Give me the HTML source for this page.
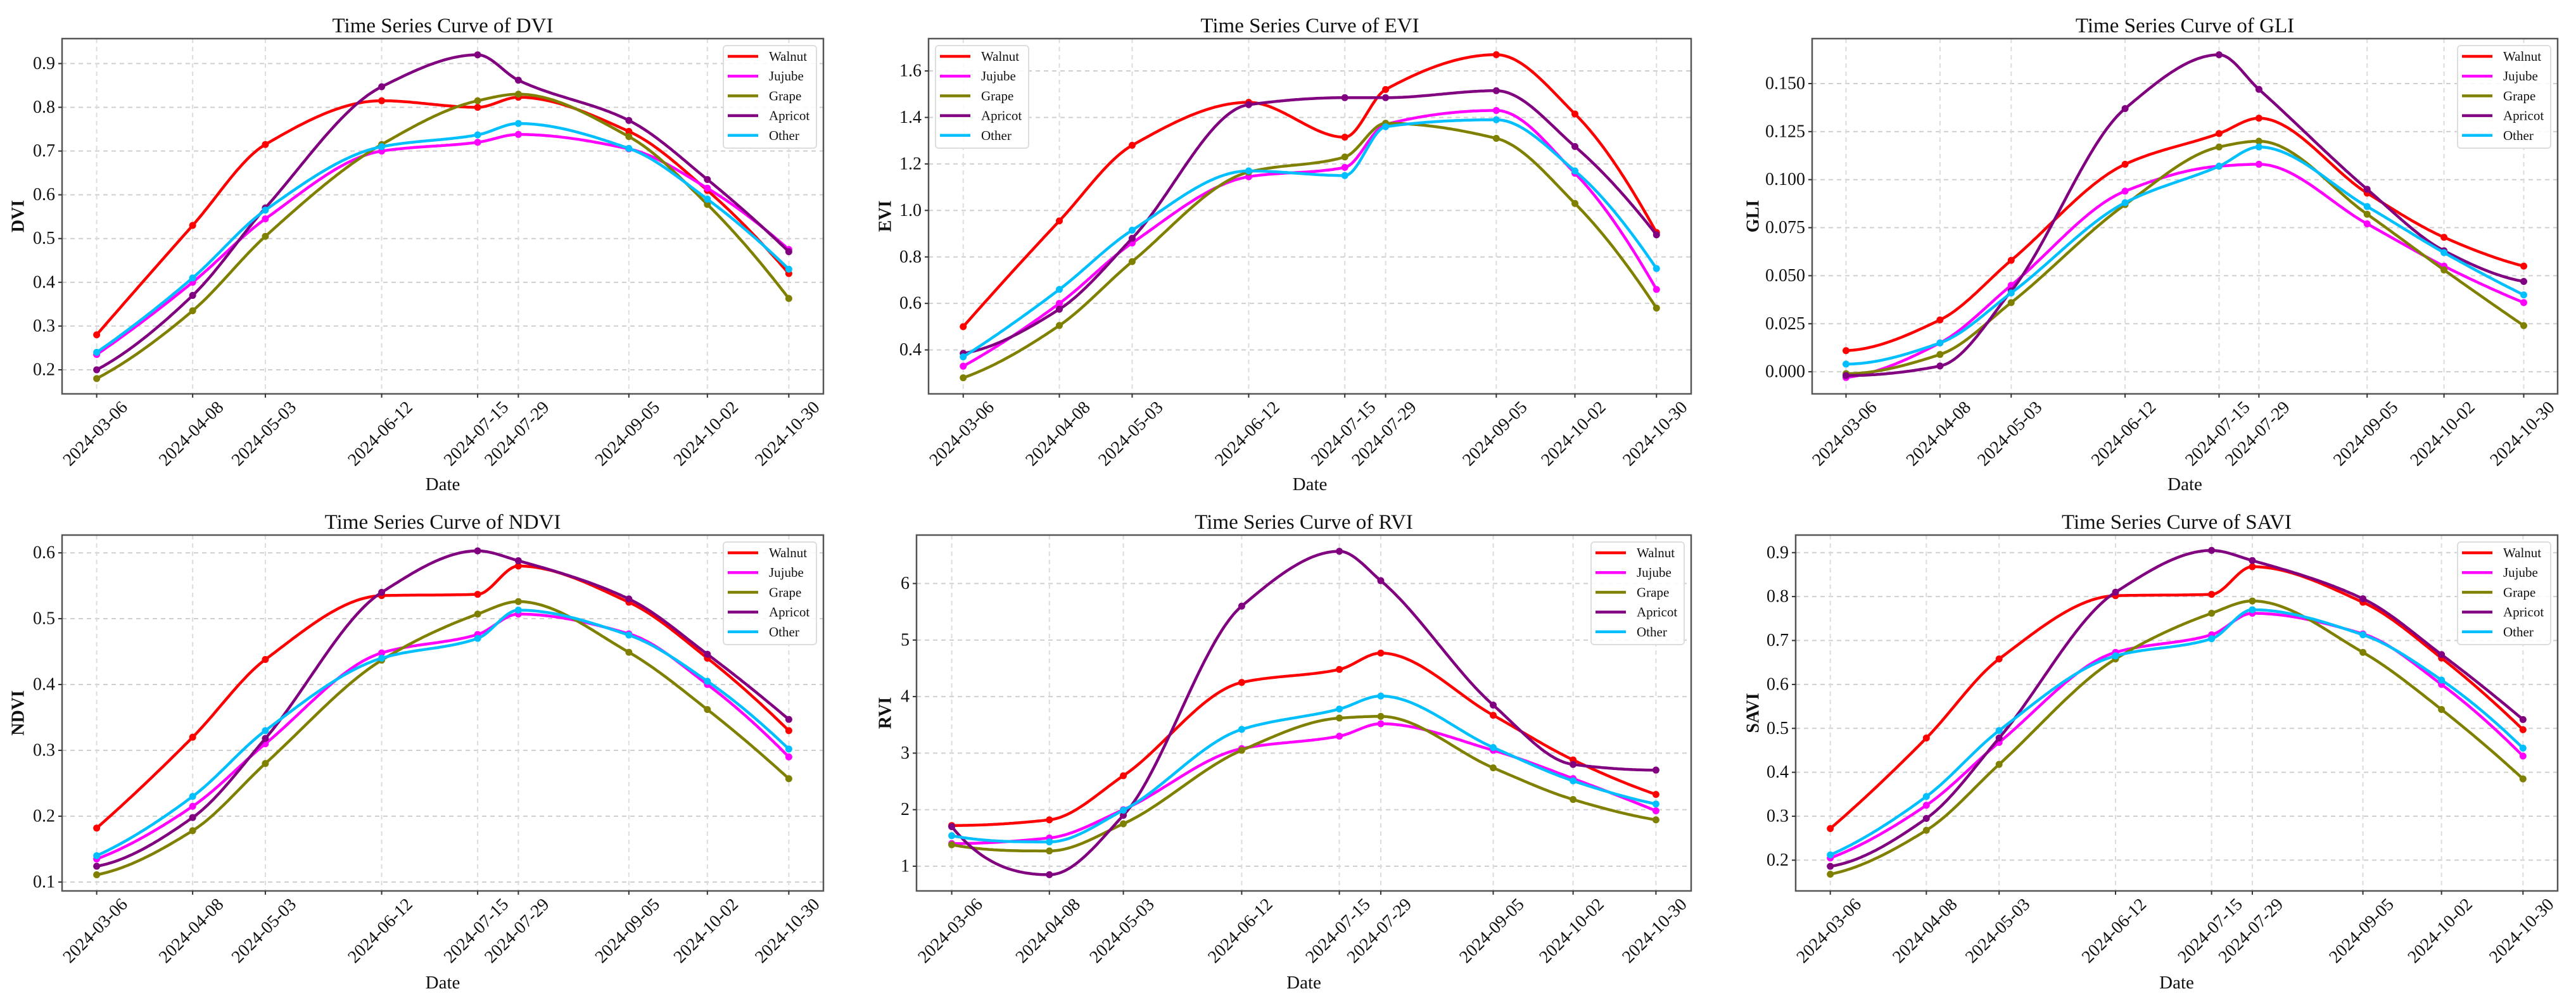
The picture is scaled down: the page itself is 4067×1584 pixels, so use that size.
<!DOCTYPE html>
<html><head><meta charset="utf-8">
<style>
html,body{margin:0;padding:0;background:#fff;}
svg{display:block;font-family:"Liberation Serif","Times New Roman",serif;}
</style></head>
<body>
<svg id="fig" width="4067" height="1584" viewBox="0 0 4067 1584" xmlns="http://www.w3.org/2000/svg"></svg>
<script>
const dateLabels = ["2024-03-06","2024-04-08","2024-05-03","2024-06-12","2024-07-15","2024-07-29","2024-09-05","2024-10-02","2024-10-30"];
const dayOffsets = [0,33,58,98,131,145,183,210,238];
const seriesNames = ["Walnut","Jujube","Grape","Apricot","Other"];
const seriesColors = ["#ff0000","#ff00ff","#808000","#800080","#00bfff"];

const dviWalnut=[0.28,0.53,0.715,0.815,0.80,0.823,0.745,0.61,0.42];
const dviJujube=[0.235,0.40,0.545,0.70,0.72,0.738,0.705,0.615,0.475];
const dviGrape=[0.18,0.335,0.505,0.715,0.815,0.83,0.733,0.578,0.363];
const dviApricot=[0.20,0.37,0.57,0.847,0.92,0.862,0.77,0.635,0.47];
const dviOther=[0.24,0.41,0.565,0.71,0.737,0.763,0.706,0.59,0.43];
const dviTicks=[0.2,0.3,0.4,0.5,0.6,0.7,0.8,0.9];

const eviWalnut=[0.50,0.955,1.28,1.465,1.315,1.52,1.67,1.415,0.905];
const eviJujube=[0.33,0.60,0.86,1.145,1.185,1.37,1.43,1.16,0.66];
const eviGrape=[0.28,0.505,0.78,1.165,1.23,1.375,1.31,1.03,0.58];
const eviApricot=[0.385,0.575,0.88,1.455,1.485,1.485,1.515,1.275,0.895];
const eviOther=[0.37,0.66,0.915,1.17,1.15,1.36,1.39,1.17,0.75];
const eviTicks=[0.4,0.6,0.8,1.0,1.2,1.4,1.6];

const gliWalnut=[0.011,0.027,0.058,0.108,0.124,0.132,0.093,0.070,0.055];
const gliJujube=[-0.003,0.015,0.045,0.094,0.107,0.108,0.077,0.055,0.036];
const gliGrape=[-0.001,0.009,0.036,0.087,0.117,0.120,0.082,0.053,0.024];
const gliApricot=[-0.002,0.003,0.042,0.137,0.165,0.147,0.095,0.063,0.047];
const gliOther=[0.004,0.015,0.041,0.088,0.107,0.117,0.086,0.062,0.040];
const gliTicks=[0,0.025,0.05,0.075,0.1,0.125,0.15];

const ndviWalnut=[0.182,0.32,0.438,0.535,0.537,0.58,0.525,0.44,0.33];
const ndviJujube=[0.135,0.215,0.31,0.448,0.476,0.507,0.477,0.40,0.29];
const ndviGrape=[0.111,0.178,0.28,0.437,0.507,0.526,0.449,0.362,0.257];
const ndviApricot=[0.124,0.198,0.318,0.54,0.603,0.588,0.53,0.446,0.347];
const ndviOther=[0.14,0.23,0.33,0.44,0.47,0.513,0.475,0.405,0.302];
const ndviTicks=[0.1,0.2,0.3,0.4,0.5,0.6];

const rviWalnut=[1.72,1.82,2.60,4.25,4.48,4.77,3.67,2.88,2.27];
const rviJujube=[1.40,1.50,2.00,3.08,3.30,3.52,3.05,2.55,1.98];
const rviGrape=[1.38,1.27,1.75,3.05,3.62,3.65,2.74,2.18,1.82];
const rviApricot=[1.70,0.85,1.90,5.60,6.57,6.05,3.85,2.80,2.70];
const rviOther=[1.54,1.43,1.99,3.42,3.78,4.01,3.10,2.51,2.10];
const rviTicks=[1,2,3,4,5,6];

const saviWalnut=[0.272,0.478,0.658,0.802,0.805,0.868,0.787,0.66,0.497];
const saviJujube=[0.205,0.325,0.468,0.673,0.713,0.762,0.715,0.60,0.437];
const saviGrape=[0.168,0.268,0.418,0.658,0.762,0.79,0.673,0.543,0.385];
const saviApricot=[0.186,0.295,0.478,0.81,0.905,0.882,0.795,0.668,0.52];
const saviOther=[0.212,0.345,0.495,0.665,0.704,0.77,0.713,0.61,0.455];
const saviTicks=[0.2,0.3,0.4,0.5,0.6,0.7,0.8,0.9];

const NS="http://www.w3.org/2000/svg";
const fig=document.getElementById('fig');
function mk(tag,attrs,parent){const e=document.createElementNS(NS,tag);for(const k in attrs)e.setAttribute(k,attrs[k]);(parent||fig).appendChild(e);return e;}

function pchip(xs,ys){
  const n=xs.length,h=[],del=[],m=new Array(n).fill(0);
  for(let i=0;i<n-1;i++){h.push(xs[i+1]-xs[i]);del.push((ys[i+1]-ys[i])/h[i]);}
  for(let i=1;i<n-1;i++){
    if(del[i-1]*del[i]<=0){m[i]=0;}
    else{const w1=2*h[i]+h[i-1],w2=h[i]+2*h[i-1];m[i]=(w1+w2)/(w1/del[i-1]+w2/del[i]);}
  }
  const endSlope=(h0,h1,d0,d1)=>{let d=((2*h0+h1)*d0-h0*d1)/(h0+h1);if(Math.sign(d)!==Math.sign(d0))d=0;else if(Math.sign(d0)!==Math.sign(d1)&&Math.abs(d)>Math.abs(3*d0))d=3*d0;return d;};
  m[0]=endSlope(h[0],h[1],del[0],del[1]);
  m[n-1]=endSlope(h[n-2],h[n-3],del[n-2],del[n-3]);
  return x=>{let j=0;while(j<n-2&&x>xs[j+1])j++;const t=(x-xs[j])/h[j];const t2=t*t,t3=t2*t;
    return (2*t3-3*t2+1)*ys[j]+(t3-2*t2+t)*h[j]*m[j]+(-2*t3+3*t2)*ys[j+1]+(t3-t2)*h[j]*m[j+1];};
}

function panel(cfg){
  const g=mk('g',{});
  
  
  const {L,R,T,B,ymin,ymax}=cfg;
  const dmin=-0.05*238,dmax=238*1.05;
  const X=d=>L+(d-dmin)/(dmax-dmin)*(R-L);
  const Y=v=>B-(v-ymin)/(ymax-ymin)*(B-T);
  cfg.ticks.forEach(t=>{const gl=mk('line',{x1:L,x2:R,y1:Y(t),y2:Y(t),stroke:'#cfcfcf','stroke-width':2,'stroke-dasharray':'7,6'},g);});
  dayOffsets.forEach(d=>{const gl=mk('line',{x1:X(d),x2:X(d),y1:T,y2:B,stroke:'#dcdcdc','stroke-width':2,'stroke-dasharray':'7,6'},g);});
  cfg.series.forEach((vals,si)=>{
    const f=pchip(dayOffsets,vals);let p='';
    for(let k=0;k<=300;k++){const d=238*k/300;p+=(k?'L':'M')+X(d).toFixed(1)+','+Y(f(d)).toFixed(1);}
    const ln=mk('path',{d:p,fill:'none',stroke:seriesColors[si],'stroke-width':4.5,'stroke-linejoin':'round'},g);
    
    
    vals.forEach((v,i)=>{const m=mk('circle',{cx:X(dayOffsets[i]),cy:Y(v),r:5.5,fill:seriesColors[si]},g);
      
      });
  });
  const fr=mk('rect',{x:L,y:T,width:R-L,height:B-T,fill:'none',stroke:'#555','stroke-width':2.5},g);
  
  cfg.ticks.forEach(t=>{
    mk('line',{x1:L-6,x2:L,y1:Y(t),y2:Y(t),stroke:'#333','stroke-width':2},g);
    const tx=mk('text',{x:L-11,y:Y(t),'font-size':28,'text-anchor':'end','dominant-baseline':'central',fill:'#111'},g);
    tx.textContent=cfg.fmt(t);
    
  });
  dayOffsets.forEach((d,i)=>{
    mk('line',{x1:X(d),x2:X(d),y1:B,y2:B+6,stroke:'#333','stroke-width':2},g);
    const cx=X(d)-2,cy=B+63;
    const tx=mk('text',{x:cx,y:cy,'font-size':28,'text-anchor':'middle','dominant-baseline':'central',fill:'#111',transform:`rotate(-45 ${cx} ${cy})`},g);
    tx.textContent=dateLabels[i];
    
  });
  const ti=mk('text',{x:(L+R)/2,y:cfg.titleY,'font-size':33,'text-anchor':'middle','dominant-baseline':'central',fill:'#111'},g);
  ti.textContent='Time Series Curve of '+cfg.name;
  
  const xl=mk('text',{x:(L+R)/2,y:cfg.xlabY,'font-size':29,'text-anchor':'middle','dominant-baseline':'central',fill:'#111'},g);
  xl.textContent='Date';
  
  const yl=mk('text',{x:cfg.ylabX,y:(T+B)/2,'font-size':28,'font-weight':'bold','text-anchor':'middle','dominant-baseline':'central',fill:'#111',transform:`rotate(-90 ${cfg.ylabX} ${(T+B)/2})`},g);
  yl.textContent=cfg.name;
  
  const lw=147,lh=162;
  const lx=cfg.legendLeft?L+11:R-11-lw, ly=T+11;
  const lg=mk('g',{},g);
  
  mk('rect',{x:lx,y:ly,width:lw,height:lh,rx:5,fill:'#fff','fill-opacity':0.85,stroke:'#ddd','stroke-width':2},lg);
  seriesNames.forEach((nm,si)=>{
    const ey=ly+17+si*31.2;
    mk('line',{x1:lx+7,x2:lx+55,y1:ey,y2:ey,stroke:seriesColors[si],'stroke-width':4.5},lg);
    const t=mk('text',{x:lx+72,y:ey,'font-size':21,'dominant-baseline':'central',fill:'#111'},lg);
    t.textContent=nm;
    
  });
}
const f1=t=>t.toFixed(1), f3=t=>t.toFixed(3), f0=t=>t.toFixed(0);
panel({key:'dvi',name:'DVI',L:98,R:1300,T:61,B:622,ymin:0.145,ymax:0.957,ticks:dviTicks,fmt:f1,titleY:41,xlabY:765,ylabX:29,
  series:[dviWalnut,dviJujube,dviGrape,dviApricot,dviOther]});
panel({key:'evi',name:'EVI',L:1466,R:2670,T:61,B:622,ymin:0.211,ymax:1.739,ticks:eviTicks,fmt:f1,titleY:41,xlabY:765,ylabX:1398,legendLeft:true,
  series:[eviWalnut,eviJujube,eviGrape,eviApricot,eviOther]});
panel({key:'gli',name:'GLI',L:2861,R:4038,T:61,B:622,ymin:-0.0115,ymax:0.1734,ticks:gliTicks,fmt:f3,titleY:41,xlabY:765,ylabX:2768,
  series:[gliWalnut,gliJujube,gliGrape,gliApricot,gliOther]});
panel({key:'ndvi',name:'NDVI',L:98,R:1300,T:845,B:1407,ymin:0.0865,ymax:0.627,ticks:ndviTicks,fmt:f1,titleY:825,xlabY:1552,ylabX:29,
  series:[ndviWalnut,ndviJujube,ndviGrape,ndviApricot,ndviOther]});
panel({key:'rvi',name:'RVI',L:1447,R:2670,T:845,B:1407,ymin:0.563,ymax:6.857,ticks:rviTicks,fmt:f0,titleY:825,xlabY:1552,ylabX:1398,
  series:[rviWalnut,rviJujube,rviGrape,rviApricot,rviOther]});
panel({key:'savi',name:'SAVI',L:2835,R:4038,T:845,B:1407,ymin:0.130,ymax:0.940,ticks:saviTicks,fmt:f1,titleY:825,xlabY:1552,ylabX:2768,
  series:[saviWalnut,saviJujube,saviGrape,saviApricot,saviOther]});
</script>
</body></html>
